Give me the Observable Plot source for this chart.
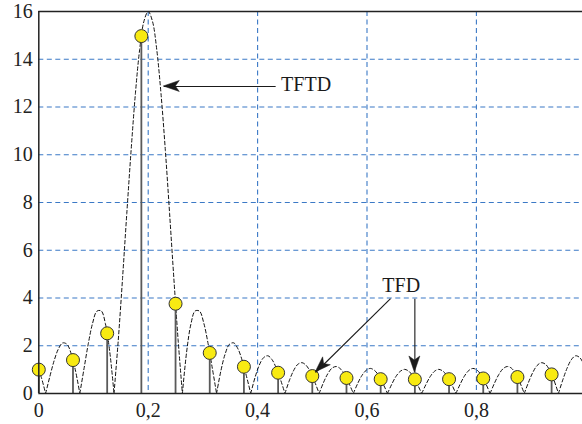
<!DOCTYPE html>
<html>
<head>
<meta charset="utf-8">
<script src="https://cdn.jsdelivr.net/npm/d3@7"></script>
<script src="https://cdn.jsdelivr.net/npm/@observablehq/plot@0.6"></script>
<style>
  html, body { margin: 0; padding: 0; background: #fff; overflow: hidden; }
</style>
</head>
<body>
<div id="chart"></div>
<script>
// ---- Data ----
// DFT samples (TFD)
const stemF = [0, 0.0625, 0.125, 0.1875, 0.25, 0.3125, 0.375, 0.4375, 0.5, 0.5625, 0.625, 0.6875, 0.75, 0.8125, 0.875, 0.9375];
const stemY = [1.0, 1.4, 2.52, 14.97, 3.76, 1.7, 1.12, 0.87, 0.73, 0.65, 0.6, 0.59, 0.6, 0.63, 0.69, 0.8];

// DTFT curve (TFTD), dashed
const tftdF = [0, 0.0047, 0.0125, 0.0203, 0.0281, 0.0359, 0.0438, 0.0516, 0.0594, 0.0672, 0.075,
  0.0828, 0.0906, 0.0984, 0.1063, 0.1141, 0.1219, 0.1297, 0.1375,
  0.1453, 0.1531, 0.1609, 0.1688, 0.1766, 0.1844, 0.1922, 0.2, 0.2078, 0.2156, 0.2234, 0.2313, 0.2391, 0.2469, 0.2547, 0.2625,
  0.2703, 0.2781, 0.2859, 0.2938, 0.3016, 0.3094, 0.3172, 0.325,
  0.3328, 0.3406, 0.3484, 0.3563, 0.3641, 0.3719, 0.3797, 0.3875,
  0.3953, 0.4031, 0.4109, 0.4188, 0.4266, 0.4344, 0.4422, 0.45,
  0.4578, 0.4656, 0.4734, 0.4813, 0.4891, 0.4969, 0.5047, 0.5125,
  0.5203, 0.5281, 0.5359, 0.5438, 0.5516, 0.5594, 0.5672, 0.575,
  0.5828, 0.5906, 0.5984, 0.6063, 0.6141, 0.6219, 0.6297, 0.6375,
  0.6453, 0.6531, 0.6609, 0.6688, 0.6766, 0.6844, 0.6922, 0.7,
  0.7078, 0.7156, 0.7234, 0.7313, 0.7391, 0.7469, 0.7547, 0.7625,
  0.7703, 0.7781, 0.7859, 0.7938, 0.8016, 0.8094, 0.8172, 0.825,
  0.8328, 0.8406, 0.8484, 0.8563, 0.8641, 0.8719, 0.8797, 0.8875,
  0.8953, 0.9031, 0.9109, 0.9188, 0.9266, 0.9344, 0.9422, 0.95,
  0.9578, 0.9656, 0.9734, 0.9813, 0.9891, 0.9969, 1.0];
const tftdY = [1.0, 0.67, 0, 0.72, 1.38, 1.87, 2.12, 2.06, 1.65, 0.94, 0,
  1.06, 2.10, 2.95, 3.45, 3.46, 2.91, 1.75, 0,
  2.24, 4.82, 7.55, 10.20, 12.56, 14.41, 15.59, 16.0, 15.59, 14.41, 12.56, 10.20, 7.55, 4.82, 2.24, 0,
  1.75, 2.91, 3.46, 3.45, 2.95, 2.10, 1.06, 0,
  0.94, 1.65, 2.06, 2.12, 1.87, 1.38, 0.72, 0,
  0.67, 1.19, 1.50, 1.58, 1.41, 1.05, 0.56, 0,
  0.53, 0.95, 1.22, 1.29, 1.17, 0.88, 0.47, 0,
  0.45, 0.82, 1.06, 1.13, 1.03, 0.78, 0.42, 0,
  0.41, 0.75, 0.97, 1.05, 0.96, 0.73, 0.39, 0,
  0.39, 0.72, 0.93, 1.01, 0.93, 0.71, 0.38, 0,
  0.38, 0.71, 0.93, 1.01, 0.93, 0.72, 0.39, 0,
  0.39, 0.73, 0.96, 1.05, 0.97, 0.75, 0.41, 0,
  0.42, 0.78, 1.03, 1.13, 1.06, 0.82, 0.45, 0,
  0.47, 0.88, 1.17, 1.29, 1.22, 0.95, 0.53, 0,
  0.56, 1.05, 1.41, 1.58, 1.50, 1.19, 1.0];

// Axis ticks
const xTicks = [0, 0.2, 0.4, 0.6, 0.8, 1];
const xTickLabels = ["0", "0,2", "0,4", "0,6", "0,8", "1"];
const yTicks = [0, 2, 4, 6, 8, 10, 12, 14, 16];
const xGrid = [0.2, 0.4, 0.6, 0.8, 1];
const yGrid = [2, 4, 6, 8, 10, 12, 14];

// Annotations
const labelText = ["TFTD", "TFD"];
const labelX = [0.443, 0.628];
const labelY = [12.92, 4.52];
const arrowX1 = [0.433, 0.643, 0.6875];
const arrowY1 = [12.86, 3.97, 3.97];
const arrowX2 = [0.2285, 0.506, 0.6875];
const arrowY2 = [12.86, 0.88, 0.88];

// ---- Build tables ----
const stems = stemF.map((f, i) => ({f, y: stemY[i]}));
// split the curve into lobes at its zeros (zero shared by neighbouring lobes)
const curve = [];
let lobe = 0;
tftdF.forEach((f, i) => {
  const y = tftdY[i];
  curve.push({f, y, lobe});
  if (y === 0 && i > 0 && i < tftdF.length - 1) { lobe++; curve.push({f, y, lobe}); }
});
const labels = labelText.map((t, i) => ({t, x: labelX[i], y: labelY[i]}));
const arrows = arrowX1.map((x1, i) => ({x1, y1: arrowY1[i], x2: arrowX2[i], y2: arrowY2[i]}));

const FONT = "Liberation Serif";
const gridColor = "#3b79c6";

// filled, notched arrowheads drawn through the plot's scales
function arrowHeads(index, scales) {
  const sx = typeof scales.x === "function" ? scales.x : scales.scales.x.scale;
  const sy = typeof scales.y === "function" ? scales.y : scales.scales.y.scale;
  const g = document.createElementNS("http://www.w3.org/2000/svg", "g");
  const L = 16, W = 5.5, N = 12;
  for (const a of arrows) {
    const x1 = sx(a.x1), y1 = sy(a.y1), x2 = sx(a.x2), y2 = sy(a.y2);
    const ang = Math.atan2(y2 - y1, x2 - x1);
    const c = Math.cos(ang), s = Math.sin(ang);
    const pt = (u, v) => [x2 - u * c - v * s, y2 - u * s + v * c];
    const pts = [pt(0, 0), pt(L, W), pt(N, 0), pt(L, -W)];
    const p = document.createElementNS("http://www.w3.org/2000/svg", "path");
    p.setAttribute("d", "M" + pts.map(q => q[0].toFixed(2) + "," + q[1].toFixed(2)).join("L") + "Z");
    p.setAttribute("fill", "#1a1a1a");
    p.setAttribute("stroke", "#1a1a1a");
    p.setAttribute("stroke-width", "0.5");
    g.appendChild(p);
  }
  return g;
}

const chart = Plot.plot({
  width: 582,
  height: 424,
  marginLeft: 38.3,
  marginRight: 0,
  marginTop: 11,
  marginBottom: 31,
  x: {domain: [0, 1], range: [38.3, 585.3]},
  y: {domain: [0, 16]},
  marks: [
    // grid
    Plot.ruleX(xGrid, {stroke: gridColor, strokeWidth: 1.1, strokeDasharray: "5,3.5"}),
    Plot.ruleY(yGrid, {stroke: gridColor, strokeWidth: 1.1, strokeDasharray: "5,3.5"}),
    // DTFT curve
    Plot.line(curve, {x: "f", y: "y", z: "lobe", curve: "catmull-rom", stroke: "#111", strokeWidth: 1, strokeDasharray: "3.5,2.5"}),
    // stems
    Plot.ruleX(stems, {x: "f", y1: 0, y2: "y", stroke: "#5a5a5a", strokeWidth: 1.8}),
    Plot.dot(stems, {x: "f", y: "y", r: 6.5, fill: "#f8ea12", stroke: "#333", strokeWidth: 1}),
    // frame
    Plot.ruleY([0, 16], {stroke: "#222", strokeWidth: 1.5}),
    Plot.ruleX([0, 1], {stroke: "#222", strokeWidth: 1.5}),
    // axes
    Plot.axisX({ticks: xTicks, tickFormat: (d) => xTickLabels[xTicks.indexOf(d)], tickSize: 0, tickPadding: 9, fontSize: 20, fontFamily: FONT, fill: "#222", label: null}),
    Plot.axisY({ticks: yTicks, tickSize: 0, tickPadding: 6, fontSize: 20, fontFamily: FONT, fill: "#222", label: null}),
    // annotations
    Plot.link(arrows, {x1: "x1", y1: "y1", x2: "x2", y2: "y2", stroke: "#1a1a1a", strokeWidth: 1.1}),
    arrowHeads,
    Plot.text(labels, {x: "x", y: "y", text: "t", textAnchor: "start", fontSize: 20, fontFamily: FONT, fill: "#1a1a1a"})
  ]
});
// make sure the serif face sticks, whatever stylesheet is around
const inner = document.createElementNS("http://www.w3.org/2000/svg", "style");
inner.textContent = 'text, tspan { font-family: "Liberation Serif", serif !important; }';
chart.insertBefore(inner, chart.firstChild);
chart.querySelectorAll("text").forEach(el => {
  el.setAttribute("font-family", FONT);
  el.style.setProperty("font-family", '"Liberation Serif", serif', "important");
});
document.getElementById("chart").appendChild(chart);
</script>
</body>
</html>
